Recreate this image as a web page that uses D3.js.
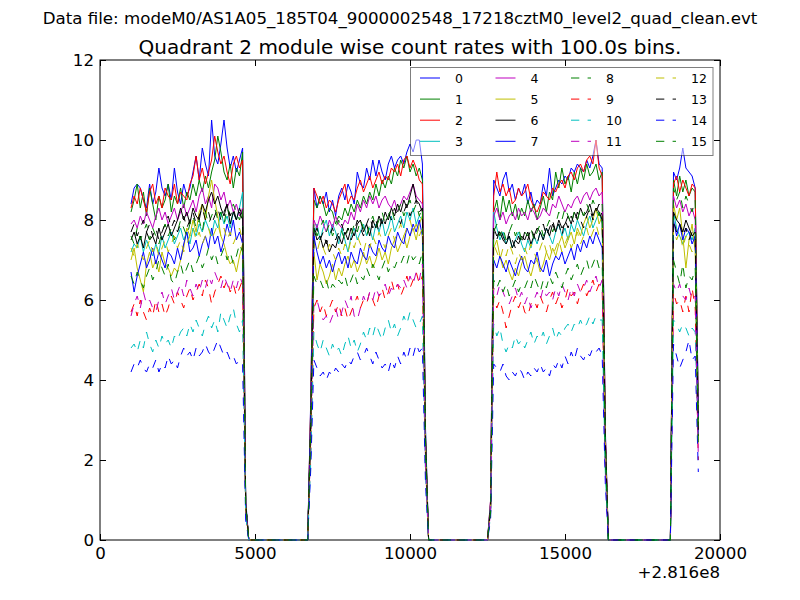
<!DOCTYPE html>
<html><head><meta charset="utf-8">
<script src="https://cdn.jsdelivr.net/npm/d3@7"></script>
<style>
body{margin:0;background:#fff}
svg{display:block}
text{font-family:"DejaVu Sans","Bitstream Vera Sans",sans-serif;fill:#000}
</style>
</head><body>
<svg id="chart" width="800" height="600"></svg>
<script>
// ---------------- data ----------------
const suptitleText = "Data file: modeM0/AS1A05_185T04_9000002548_17218cztM0_level2_quad_clean.evt";
const titleText = "Quadrant 2 module wise count rates with 100.0s bins.";
const offsetText = "+2.816e8";
const xTicks = [0, 5000, 10000, 15000, 20000];
const yTicks = [0, 2, 4, 6, 8, 10, 12];
const segStarts = [1000, 6800, 12600, 18500];   // first bin time of each good-time segment
const binWidth = 100;                            // 100.0 s bins
const gapZeros = [[4800, 6700], [10600, 12500], [16400, 18400]]; // empty bins (rate 0)
const moduleLabels = ["0","1","2","3","4","5","6","7","8","9","10","11","12","13","14","15"];
const moduleColors = ["#0000ff","#008000","#ff0000","#00bfbf","#bf00bf","#bfbf00","#000000","#0000ff",
                      "#008000","#ff0000","#00bfbf","#bf00bf","#bfbf00","#000000","#0000ff","#008000"];
const moduleDashed = [false,false,false,false,false,false,false,false,true,true,true,true,true,true,true,true];

const mod0 = [
 [8.4,8.8,8.9,8.8,8.5,8.3,8.9,8.4,8.7,9.3,8.8,8.6,8.9,8.5,9.3,8.7,8.4,8.9,8.6,8.8,9.2,9.6,9.0,9.8,9.4,9.1,10.5,9.6,9.4,9.9,10.5,9.8,9.3,9.6,9.2,9.5,9.8,1.0],
 [3.6,8.8,8.3,8.6,8.4,8.7,8.2,8.5,8.1,8.6,8.8,8.5,8.9,8.7,8.4,9.2,8.9,8.8,9.3,9.0,9.5,9.1,9.5,9.2,9.0,9.4,9.6,9.3,9.5,9.6,9.4,9.7,9.9,9.7,10.0,10.0,9.4,2.8],
 [1.0,9.0,8.8,8.6,9.0,9.2,8.7,8.9,8.5,8.8,8.6,8.9,8.4,8.7,8.3,8.5,8.4,8.9,8.6,9.3,8.6,8.8,9.0,8.9,9.1,9.0,9.3,9.2,9.4,9.3,9.2,9.5,9.3,9.6,10.0,9.4,9.3,2.8],
 [9.2,9.0,9.3,9.8,9.3,9.2,9.1,8.8,3.3]];
const mod1 = [
 [8.2,8.5,8.9,8.3,8.7,8.1,8.8,8.4,8.0,8.6,8.3,8.5,8.9,8.2,8.6,8.4,8.8,8.3,8.7,8.5,8.9,8.6,9.0,8.7,9.1,8.8,9.2,9.5,10.1,9.7,9.2,9.0,9.4,8.8,9.3,9.1,9.7,0.9],
 [3.4,8.5,8.3,8.6,8.4,8.1,8.3,8.2,7.9,8.1,8.0,8.3,8.1,8.4,8.2,8.5,8.3,8.6,8.4,8.7,8.5,8.9,8.6,9.0,8.8,9.1,8.9,9.3,9.1,9.5,9.3,9.6,9.2,9.4,9.1,9.3,9.0,2.7],
 [0.9,8.2,8.5,8.0,8.6,8.2,8.5,8.1,8.4,8.0,8.3,8.1,8.5,8.2,8.4,8.0,8.3,8.6,8.2,8.7,8.5,9.2,8.8,9.3,8.9,9.1,8.7,9.2,8.9,9.3,9.0,9.4,9.1,9.2,9.4,9.0,9.2,2.6],
 [9.0,8.6,9.1,8.7,9.0,8.6,8.8,8.7,3.1]];
const mod2 = [
 [8.3,8.6,8.4,8.8,8.5,8.2,8.7,8.9,8.4,8.6,8.3,8.8,8.6,8.5,8.9,8.4,8.7,8.6,8.5,8.9,9.1,9.6,9.0,9.3,8.9,9.2,9.5,10.1,9.7,9.4,9.6,9.2,8.9,9.4,9.6,9.3,9.5,0.9],
 [3.5,8.8,8.6,8.4,8.6,8.3,8.5,8.4,8.2,8.5,8.7,8.9,8.4,8.6,8.5,8.8,9.0,8.7,8.9,9.1,8.8,9.0,9.2,8.9,9.1,9.0,9.3,9.2,9.4,9.1,9.5,9.6,9.3,9.5,9.3,9.0,8.9,2.6],
 [1.0,8.6,9.2,8.7,8.9,8.6,8.8,8.4,8.5,8.8,8.6,8.7,8.9,8.5,8.3,8.2,8.4,8.7,8.6,8.5,8.8,8.7,8.9,9.0,8.8,9.1,9.2,9.0,9.3,9.4,9.2,9.5,9.6,9.4,10.0,9.3,9.1,2.7],
 [8.9,9.1,8.7,9.0,8.8,8.6,8.9,8.8,3.0]];
const mod3 = [
 [7.2,7.4,7.3,7.6,7.2,7.5,7.3,7.1,7.4,7.2,7.6,7.3,7.5,7.7,7.4,7.6,7.8,7.5,7.7,7.4,7.8,7.6,7.9,7.7,8.0,7.8,7.6,8.0,7.8,8.2,7.9,8.1,7.8,8.2,8.0,8.3,8.7,0.9],
 [3.1,7.6,7.9,7.5,7.8,8.0,7.6,7.9,7.7,7.4,7.8,7.5,7.2,7.6,7.8,7.5,7.7,7.9,7.6,7.8,7.5,7.9,7.7,8.0,7.6,7.8,8.1,7.7,7.9,8.1,7.8,8.2,8.0,8.3,7.9,8.1,8.0,2.4],
 [0.9,8.2,7.8,7.5,7.7,7.4,7.6,7.3,7.5,7.7,7.4,7.2,7.5,7.3,7.6,7.4,7.7,7.5,7.8,7.6,7.4,7.7,7.9,7.6,7.8,7.5,7.9,7.7,8.0,7.8,7.6,7.9,8.1,7.8,8.0,8.2,7.9,2.4],
 [8.2,7.8,7.6,7.4,7.6,7.7,7.5,7.8,2.6]];
const mod4 = [
 [7.9,8.0,7.8,8.1,7.9,8.2,8.0,7.8,8.1,8.3,8.0,8.2,7.9,8.1,8.3,8.0,8.2,8.4,8.1,8.3,8.5,8.2,8.6,8.8,8.4,8.6,8.3,8.9,8.8,8.5,8.7,8.3,8.5,8.2,8.4,8.1,8.3,0.9],
 [3.2,8.0,7.8,8.1,7.9,7.7,8.0,7.8,8.1,7.9,7.8,8.0,7.9,8.2,8.0,8.4,8.2,8.5,8.3,8.6,8.4,8.6,8.3,8.5,8.6,8.4,8.3,8.5,8.2,8.4,8.6,8.5,8.7,8.9,8.6,8.5,8.4,2.5],
 [0.9,8.1,8.3,8.0,8.2,7.9,8.1,8.2,8.0,8.3,8.1,8.2,8.0,8.3,8.2,8.0,8.1,8.3,8.2,8.1,8.4,8.3,8.6,8.4,8.2,8.4,8.3,8.5,8.6,8.4,8.6,8.7,8.5,8.7,8.8,8.6,8.7,2.6],
 [8.6,8.3,8.5,8.2,8.4,8.1,8.3,8.0,2.8]];
const mod5 = [
 [7.0,7.3,6.8,6.5,6.2,6.9,7.2,6.8,7.0,6.7,7.2,6.9,6.8,6.6,6.8,6.7,7.0,7.3,7.8,7.6,8.0,7.7,8.2,8.4,8.0,8.6,9.0,8.5,8.1,7.6,7.4,7.1,6.9,7.0,6.7,7.1,7.4,0.8],
 [2.8,7.2,6.5,6.9,6.7,6.4,6.6,6.9,6.5,6.8,6.6,6.9,7.1,6.8,7.0,6.7,6.9,7.2,6.9,7.1,6.8,7.0,7.3,7.0,7.2,6.9,7.3,7.5,7.2,7.4,7.6,7.3,7.6,7.8,7.5,7.9,8.1,2.3],
 [0.8,7.3,7.5,7.1,6.8,7.0,6.7,6.5,6.8,6.6,6.9,7.1,6.8,6.6,6.9,7.0,6.7,6.9,7.2,7.0,7.3,7.1,7.4,7.6,7.3,7.5,7.7,7.4,7.8,7.6,7.9,8.1,7.8,8.0,8.3,7.9,8.1,2.4],
 [8.4,8.0,8.3,7.6,6.8,7.5,7.9,7.2,2.5]];
const mod6 = [
 [7.5,7.7,7.4,7.6,7.3,7.7,7.5,7.6,7.4,7.8,7.5,7.7,7.9,7.6,7.8,8.0,8.3,8.0,8.2,7.9,8.3,8.1,8.0,8.4,8.2,8.5,8.7,8.4,8.6,8.3,8.1,8.4,7.9,8.2,8.0,8.3,8.1,0.9],
 [3.0,7.8,7.5,7.6,7.3,7.5,7.2,7.4,7.3,7.6,7.4,7.7,7.5,7.8,7.6,7.9,8.0,7.7,7.9,7.6,8.0,7.8,8.1,7.9,8.2,8.0,8.3,8.1,8.4,8.2,8.5,8.3,8.6,8.9,8.5,8.4,8.2,2.5],
 [0.8,7.8,7.6,7.7,7.5,7.4,7.6,7.3,7.5,7.4,7.6,7.5,7.7,7.4,7.6,7.8,7.7,7.5,7.8,7.6,7.9,7.7,8.0,7.8,7.9,8.1,7.9,8.2,8.0,8.3,8.1,8.2,8.4,8.1,8.3,8.2,8.0,2.5],
 [8.2,8.0,7.9,7.7,8.0,7.8,7.6,7.7,2.6]];
const mod7 = [
 [6.7,6.2,6.6,6.9,7.2,6.8,7.0,7.3,6.9,7.2,7.0,6.8,7.2,7.1,6.9,7.3,7.0,7.4,7.7,7.2,7.3,7.5,7.1,7.4,7.6,7.3,7.8,7.4,7.6,7.2,7.5,7.9,7.6,8.0,7.5,7.7,7.4,0.8],
 [3.0,7.6,7.2,6.9,7.1,6.8,7.0,6.7,7.0,7.2,6.9,7.1,6.8,7.2,7.0,6.9,7.3,7.1,7.0,7.4,7.2,7.1,7.5,7.3,7.2,7.6,7.4,7.3,7.7,7.5,7.4,7.8,7.6,7.9,7.7,8.0,7.6,2.3],
 [0.8,7.0,6.8,7.1,6.9,6.7,7.0,6.8,6.6,6.9,7.1,6.8,6.7,7.0,6.9,7.2,6.8,6.7,7.0,6.6,6.9,7.1,7.0,7.2,6.9,7.1,7.3,7.0,7.4,7.2,7.5,7.3,7.6,7.4,7.7,7.5,7.3,2.2],
 [8.0,7.6,7.9,7.5,7.8,7.7,7.4,7.6,2.7]];
const mod8 = [
 [7.6,7.4,7.8,7.5,7.7,7.9,7.5,7.8,7.6,7.4,7.7,7.9,7.6,7.8,7.5,7.7,8.0,7.8,7.6,7.9,8.1,7.8,8.0,7.7,8.2,7.9,8.1,8.3,8.0,8.2,7.9,8.3,8.1,8.4,8.2,8.0,8.3,0.9],
 [3.1,7.9,7.6,7.8,8.0,7.7,7.9,7.6,7.8,8.0,7.7,7.5,7.8,7.6,7.9,7.7,8.0,7.8,7.6,7.9,8.1,7.8,8.0,8.2,7.9,8.1,8.3,8.0,8.2,8.4,8.1,8.3,8.5,8.2,8.4,8.1,8.3,2.5],
 [0.8,7.7,7.9,7.6,7.8,7.5,7.7,7.9,7.6,7.8,7.5,7.7,7.6,7.8,7.5,7.7,7.9,7.6,7.8,8.0,7.7,7.9,8.2,8.0,8.3,8.1,7.9,8.2,8.0,8.3,8.1,8.4,8.2,8.5,8.3,8.1,8.4,2.6],
 [8.8,8.5,8.7,8.3,8.6,8.4,8.2,8.5,2.9]];
const mod9 = [
 [5.7,5.9,5.6,6.0,5.7,5.5,5.8,5.6,6.0,5.7,5.9,5.6,5.8,6.1,5.9,6.2,6.0,5.8,6.1,6.3,6.0,6.2,6.4,6.1,6.5,6.3,5.9,6.2,6.4,6.6,6.3,6.5,6.2,6.4,6.1,6.3,6.5,0.7],
 [2.3,5.8,6.0,5.7,5.9,5.6,5.8,6.0,5.7,5.9,5.6,5.8,5.5,5.7,5.9,6.1,5.8,6.0,5.9,6.2,6.0,5.8,6.1,6.3,6.0,6.2,6.5,6.2,6.4,6.1,6.3,6.6,6.3,6.5,6.7,6.4,6.6,1.8],
 [0.7,6.1,5.8,6.0,5.7,5.3,5.6,5.9,6.1,5.8,6.0,5.7,5.6,5.9,6.0,5.8,6.1,5.9,5.7,6.0,6.2,5.9,6.1,5.8,6.0,6.3,6.1,6.2,5.9,6.2,6.4,6.1,6.3,6.5,6.2,6.4,6.3,1.9],
 [6.2,5.9,6.0,5.7,6.1,5.7,6.3,5.8,2.0]];
const mod10 = [
 [4.8,4.9,4.7,5.0,4.8,5.2,4.9,4.7,5.0,4.8,5.1,4.9,5.0,4.8,5.1,5.0,5.2,5.3,5.1,5.4,5.2,5.5,5.3,5.1,5.4,5.6,5.3,5.5,5.2,5.7,5.5,5.3,5.6,5.8,5.4,5.2,5.5,0.6],
 [2.0,5.2,4.9,4.7,5.0,4.8,4.6,4.9,4.7,4.8,4.6,4.9,5.1,4.8,5.0,4.7,4.9,5.2,5.0,5.3,5.1,5.4,5.2,5.0,5.3,5.5,5.2,5.4,5.1,5.3,5.6,5.4,5.7,5.5,5.3,5.4,5.6,1.6],
 [0.6,5.4,5.1,5.3,4.9,4.7,4.9,4.8,5.1,4.9,5.0,4.8,5.0,5.2,4.9,5.1,5.0,5.2,4.9,5.1,5.3,5.0,5.2,5.1,5.3,5.4,5.2,5.4,5.3,5.5,5.3,5.4,5.6,5.4,5.6,5.5,5.5,1.7],
 [5.5,5.4,5.2,5.4,5.3,5.1,5.3,5.2,2.5]];
const mod11 = [
 [5.6,5.9,6.1,5.8,6.2,5.9,6.0,5.8,5.7,6.0,6.2,5.9,6.1,6.3,6.0,6.2,6.4,6.1,6.5,6.3,6.1,6.4,6.2,6.5,6.3,6.6,6.4,6.7,6.5,6.3,6.6,6.4,6.2,6.5,6.3,6.6,6.4,0.7],
 [2.4,5.9,6.0,5.7,5.5,5.6,5.4,5.6,5.8,5.5,5.7,6.0,5.8,6.1,5.6,5.5,5.8,6.1,5.9,6.2,6.0,6.3,6.1,6.2,6.4,6.1,6.3,6.2,6.4,6.3,6.5,6.3,6.6,6.4,6.7,6.5,6.9,1.9],
 [0.7,6.3,6.1,6.4,6.2,6.0,5.9,6.1,6.3,6.0,6.2,5.9,6.1,5.8,6.0,6.2,6.0,6.3,6.1,6.2,6.0,6.3,6.1,6.4,6.2,6.0,6.3,6.1,6.4,6.2,6.3,6.5,6.2,6.4,6.6,6.3,6.5,1.9],
 [6.4,6.2,6.4,6.1,6.0,6.3,6.0,6.1,2.1]];
const mod12 = [
 [7.3,7.1,7.4,7.2,7.0,7.3,7.5,7.2,7.4,7.1,7.3,7.5,7.2,7.4,7.6,7.3,7.5,7.2,7.4,7.6,7.8,7.5,7.7,7.4,7.6,7.8,7.5,7.7,7.9,7.6,7.8,7.5,7.7,7.4,7.6,7.8,7.5,0.8],
 [2.9,7.4,7.2,7.5,7.3,7.1,7.4,7.2,7.0,7.3,7.1,7.4,7.2,7.5,7.3,7.6,7.4,7.2,7.5,7.3,7.6,7.4,7.7,7.5,7.3,7.6,7.8,7.5,7.7,7.9,7.6,7.8,8.0,7.7,7.9,7.6,7.8,2.3],
 [0.8,7.4,7.2,7.0,7.3,7.1,7.4,7.2,6.9,7.2,7.0,7.3,7.1,7.4,7.2,7.0,7.3,7.5,7.2,7.4,7.1,7.3,7.5,7.2,7.4,7.6,7.3,7.5,7.7,7.4,7.6,7.8,7.5,7.7,7.9,7.6,7.8,2.3],
 [7.8,7.5,7.7,7.3,7.6,7.4,7.2,7.5,2.6]];
const mod13 = [
 [7.7,7.9,7.6,7.8,8.0,7.7,7.9,7.6,7.8,7.5,7.7,7.9,8.1,7.8,8.0,7.7,7.9,8.1,7.8,8.0,8.2,7.9,8.1,8.3,8.0,8.2,7.9,8.1,8.3,8.0,8.2,8.4,8.1,8.3,8.0,8.2,8.0,0.9],
 [3.0,7.6,7.8,7.5,7.7,7.4,7.6,7.8,7.5,7.7,7.9,7.6,7.8,7.5,7.7,8.0,7.8,7.6,7.9,8.1,7.8,8.0,7.7,8.1,7.9,8.2,8.0,8.3,8.1,7.9,8.2,8.4,8.1,8.3,8.5,8.2,8.3,2.4],
 [0.8,7.7,7.5,7.8,7.6,7.4,7.7,7.5,7.3,7.6,7.4,7.7,7.5,7.8,7.6,7.4,7.7,7.9,7.6,7.8,8.0,7.7,7.9,7.6,8.0,7.8,8.1,7.9,8.2,8.0,7.8,8.1,8.3,8.0,8.2,8.4,8.1,2.5],
 [8.0,7.7,7.9,7.6,7.8,7.5,7.7,7.6,2.7]];
const mod14 = [
 [4.2,4.4,4.3,4.5,4.3,4.2,4.4,4.3,4.5,4.2,4.4,4.3,4.6,4.4,4.5,4.3,4.6,4.8,4.6,4.7,4.5,4.8,4.6,4.7,4.9,4.7,4.6,4.8,5.0,4.8,4.6,4.7,4.5,4.6,4.4,4.5,4.4,0.5],
 [1.8,4.5,4.3,4.1,4.2,4.0,4.2,4.1,4.3,4.2,4.4,4.3,4.5,4.4,4.6,4.7,4.5,4.6,4.8,4.6,4.4,4.7,4.5,4.3,4.4,4.2,4.5,4.3,4.6,4.4,4.7,4.5,4.8,4.6,4.9,4.7,4.8,1.4],
 [0.5,4.4,4.3,4.2,4.4,4.1,4.0,4.2,4.1,4.3,4.2,4.0,4.2,4.1,4.3,4.2,4.4,4.2,4.3,4.1,4.4,4.3,4.5,4.3,4.6,4.4,4.7,4.5,4.8,4.6,4.5,4.7,4.6,4.8,4.7,4.8,4.6,1.4],
 [4.9,4.6,4.3,4.5,4.7,5.0,4.5,4.6,1.7]];
const mod15 = [
 [6.6,6.4,6.7,6.5,6.3,6.6,6.8,6.5,6.7,7.0,6.8,6.6,6.9,6.5,6.4,6.7,6.9,6.6,6.8,7.0,6.7,6.9,7.1,6.8,7.0,7.3,7.0,7.2,6.9,7.1,7.3,7.0,7.2,6.9,7.1,7.4,7.2,0.8],
 [2.6,6.6,6.4,6.5,6.3,6.5,6.2,6.4,6.3,6.5,6.4,6.6,6.3,6.5,6.7,6.4,6.6,6.5,6.8,6.6,6.9,6.7,6.5,6.8,7.0,6.7,6.9,6.8,7.0,6.9,7.1,6.9,7.2,7.0,7.1,6.9,7.2,2.2],
 [0.7,6.5,6.3,6.5,6.2,6.4,6.1,6.3,6.5,6.2,6.4,6.3,6.5,6.3,6.6,6.4,6.2,6.5,6.3,6.6,6.4,6.7,6.5,6.3,6.6,6.8,6.5,6.7,6.9,6.6,6.8,7.0,6.7,6.9,7.1,6.8,6.9,2.1],
 [7.0,6.7,6.4,6.9,6.3,6.6,6.5,6.8,2.4]];

const modules = [mod0,mod1,mod2,mod3,mod4,mod5,mod6,mod7,mod8,mod9,mod10,mod11,mod12,mod13,mod14,mod15];

// ---------------- drawing ----------------
const W = 800, H = 600;
const plot = {left: 100, right: 720, top: 60, bottom: 540};
const svg = d3.select("#chart");
svg.append("rect").attr("width", W).attr("height", H).attr("fill", "#fff");

const x = d3.scaleLinear().domain([0, 20000]).range([plot.left, plot.right]);
const y = d3.scaleLinear().domain([0, 12]).range([plot.bottom, plot.top]);

function toPoints(mod) {
  const pts = [];
  mod.forEach((seg, k) => {
    seg.forEach((v, j) => pts.push([segStarts[k] + j * binWidth, v]));
    if (k < gapZeros.length) {
      pts.push([gapZeros[k][0], 0]);
      pts.push([gapZeros[k][1], 0]);
    }
  });
  return pts;
}

// frame
svg.append("rect")
  .attr("x", plot.left).attr("y", plot.top)
  .attr("width", plot.right - plot.left).attr("height", plot.bottom - plot.top)
  .attr("fill", "none").attr("stroke", "#000").attr("stroke-width", 1);

const fs = 16.67;
function styleAxis(g, hideLabels) {
  g.select(".domain").remove();
  g.selectAll(".tick line").attr("stroke", "#000").attr("stroke-width", 1);
  g.selectAll(".tick text").attr("font-size", fs).attr("fill", "#000")
    .style("font-family", '"DejaVu Sans", sans-serif');
  if (hideLabels) g.selectAll(".tick text").remove();
}
svg.append("g").attr("transform", `translate(0,${plot.bottom})`)
  .call(d3.axisBottom(x).tickValues(xTicks).tickFormat(d3.format("d")).tickSizeInner(-6).tickSizeOuter(0).tickPadding(7))
  .call(g => styleAxis(g, false));
svg.append("g").attr("transform", `translate(0,${plot.top})`)
  .call(d3.axisTop(x).tickValues(xTicks).tickSizeInner(-6).tickSizeOuter(0))
  .call(g => styleAxis(g, true));
svg.append("g").attr("transform", `translate(${plot.left},0)`)
  .call(d3.axisLeft(y).tickValues(yTicks).tickFormat(d3.format("d")).tickSizeInner(-6).tickSizeOuter(0).tickPadding(6))
  .call(g => styleAxis(g, false));
svg.append("g").attr("transform", `translate(${plot.right},0)`)
  .call(d3.axisRight(y).tickValues(yTicks).tickSizeInner(-6).tickSizeOuter(0))
  .call(g => styleAxis(g, true));

// lines
svg.append("clipPath").attr("id", "clip").append("rect")
  .attr("x", plot.left).attr("y", plot.top - 1)
  .attr("width", plot.right - plot.left).attr("height", plot.bottom - plot.top + 2);
const line = d3.line().x(d => x(d[0])).y(d => y(d[1]));
const lg = svg.append("g").attr("clip-path", "url(#clip)");
modules.forEach((mod, i) => {
  lg.append("path")
    .datum(toPoints(mod))
    .attr("d", line)
    .attr("fill", "none")
    .attr("stroke", moduleColors[i])
    .attr("stroke-width", 1)
    .attr("stroke-linejoin", "round")
    .attr("stroke-dasharray", moduleDashed[i] ? "8.3,8.3" : null);
});

// texts
svg.append("text").attr("x", plot.right).attr("y", 578).attr("text-anchor", "end")
  .attr("font-size", fs).text(offsetText);
svg.append("text").attr("x", (plot.left + plot.right) / 2).attr("y", 54).attr("text-anchor", "middle")
  .attr("font-size", 20).text(titleText);
svg.append("text").attr("x", W / 2).attr("y", 24).attr("text-anchor", "middle")
  .attr("font-size", fs).text(suptitleText);

// legend
const leg = svg.append("g");
leg.append("rect").attr("x", 410.5).attr("y", 67.5).attr("width", 302.5).attr("height", 88)
  .attr("fill", "#fff").attr("fill-opacity", 0.5)
  .attr("stroke", "#000").attr("stroke-opacity", 0.5).attr("stroke-width", 1);
const handleX = [420, 495.5, 571, 656];
moduleLabels.forEach((lab, i) => {
  const col = Math.floor(i / 4), row = i % 4;
  const yy = 78 + row * 21.1;
  leg.append("line").attr("x1", handleX[col]).attr("x2", handleX[col] + 20)
    .attr("y1", yy).attr("y2", yy)
    .attr("stroke", moduleColors[i]).attr("stroke-width", 1)
    .attr("stroke-dasharray", moduleDashed[i] ? "8.3,8.3" : null);
  leg.append("text").attr("x", handleX[col] + 35).attr("y", yy).attr("dy", "0.36em")
    .attr("font-size", 12.5).text(lab);
});
</script>
</body></html>
